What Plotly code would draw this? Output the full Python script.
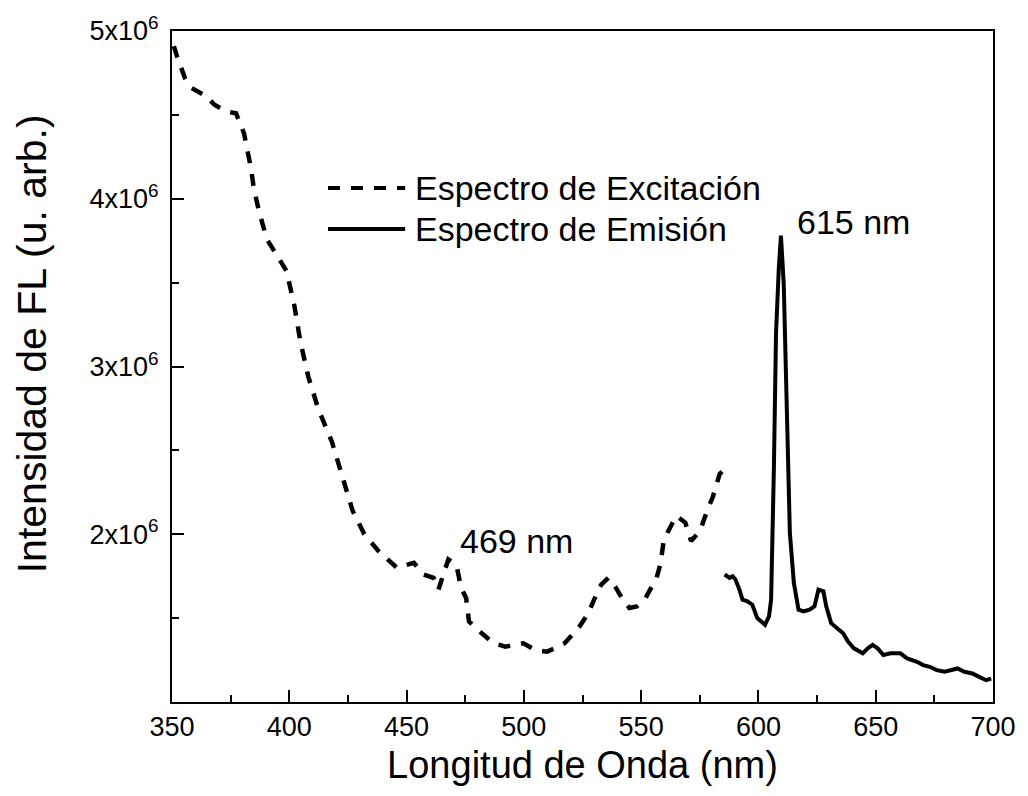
import plotly.graph_objects as go

# Excitation spectrum (dashed)
exc_x = [350.8, 352.1, 355.5, 358.4, 364.7, 368.1, 373.1, 377.3, 380.7, 383.7, 384.9, 387.0, 390.4,
         398.8, 402.2, 404.7, 408.1, 412.3, 418.2, 422.4, 427.0, 432.0, 438.0, 445.9, 453.1, 457.3,
         461.5, 463.6, 467.8, 471.2, 473.3, 475.4, 476.6, 480.4, 487.1, 492.2, 499.8, 504.8, 509.9,
         513.2, 517.4, 523.7, 527.1, 530.9, 533.0, 536.0, 539.3, 541.8, 545.0, 548.1, 551.9, 556.6,
         558.2, 559.5, 561.6, 565.0, 568.8, 571.3, 575.1, 578.4, 580.5, 583.5, 585.0]
exc_y = [4.91, 4.85, 4.72, 4.66, 4.61, 4.56, 4.52, 4.51, 4.39, 4.18, 4.06, 3.93, 3.76,
         3.57, 3.36, 3.15, 2.94, 2.75, 2.55, 2.35, 2.14, 2.00, 1.90, 1.80, 1.83, 1.76,
         1.74, 1.67, 1.85, 1.82, 1.68, 1.62, 1.48, 1.43, 1.35, 1.33, 1.35, 1.31, 1.30,
         1.32, 1.35, 1.45, 1.52, 1.64, 1.70, 1.74, 1.68, 1.62, 1.56, 1.57, 1.62, 1.74,
         1.82, 1.95, 2.02, 2.11, 2.07, 1.96, 2.02, 2.15, 2.22, 2.36, 2.38]

# Emission spectrum (solid)
em_x = [585.6, 587.7, 589.0, 590.2, 591.9, 593.2, 595.3, 597.4, 599.5, 601.6, 602.8, 604.5, 605.4,
        606.6, 607.5, 608.7, 609.6, 610.8, 612.1, 613.4, 615.1, 617.1, 619.2, 621.8, 623.9, 625.6,
        627.7, 628.9, 631.0, 634.0, 636.1, 638.2, 640.7, 644.5, 646.6, 648.7, 650.8, 653.3, 656.3,
        660.5, 663.4, 667.6, 670.2, 673.1, 676.0, 679.4, 682.4, 684.9, 687.8, 691.2, 694.1, 697.1, 699.2]
em_y = [1.76, 1.74, 1.75, 1.73, 1.67, 1.61, 1.60, 1.58, 1.50, 1.47, 1.46, 1.51, 1.61,
        2.40, 3.20, 3.59, 3.78, 3.49, 2.80, 2.01, 1.71, 1.55, 1.54, 1.55, 1.57, 1.67,
        1.66, 1.57, 1.47, 1.43, 1.41, 1.36, 1.32, 1.29, 1.32, 1.34, 1.32, 1.28, 1.29,
        1.29, 1.26, 1.24, 1.22, 1.21, 1.19, 1.18, 1.19, 1.20, 1.18, 1.17, 1.15, 1.13, 1.14]

SCALE = 1e6
y_tickvals = [2, 3, 4, 5]
y_ticktext = ["2x10<sup>6</sup>", "3x10<sup>6</sup>", "4x10<sup>6</sup>", "5x10<sup>6</sup>"]
x_tickvals = [350, 400, 450, 500, 550, 600, 650, 700]

FONT = "Arial, Liberation Sans, sans-serif"
DASH = "12px,11px"

fig = go.Figure()
fig.add_trace(go.Scatter(x=exc_x, y=[v * SCALE for v in exc_y], mode="lines",
                         line=dict(color="black", width=4.5, dash=DASH),
                         name="Espectro de Excitación", showlegend=False))
fig.add_trace(go.Scatter(x=em_x, y=[v * SCALE for v in em_y], mode="lines",
                         line=dict(color="black", width=4),
                         name="Espectro de Emisión", showlegend=False))

# Manual legend (paper coordinates)
leg_x0, leg_x1, leg_tx = 0.19, 0.284, 0.293
leg_rows = [(0.766, DASH, "Espectro de Excitación"), (0.705, "solid", "Espectro de Emisión")]
for yy, dash, label in leg_rows:
    fig.add_shape(type="line", xref="paper", yref="paper", x0=leg_x0, x1=leg_x1, y0=yy, y1=yy,
                  line=dict(color="black", width=4, dash=dash))
    fig.add_annotation(xref="paper", yref="paper", x=leg_tx, y=yy, text=label,
                       showarrow=False, xanchor="left", yanchor="middle",
                       font=dict(family=FONT, size=34, color="black"))

fig.add_annotation(x=472.0, y=1.96 * SCALE, text="469 nm", showarrow=False, xanchor="left",
                   yanchor="middle", font=dict(family=FONT, size=34, color="black"))
fig.add_annotation(x=615.5, y=3.86 * SCALE, text="615 nm", showarrow=False, xanchor="left",
                   yanchor="middle", font=dict(family=FONT, size=34, color="black"))

# Y-axis title placed as rotated annotation
fig.add_annotation(xref="paper", yref="paper", x=-0.171, y=0.534, text="Intensidad de FL (u. arb.)",
                   textangle=-90, showarrow=False, xanchor="center", yanchor="middle",
                   font=dict(family=FONT, size=41, color="black"))

fig.update_layout(
    width=1028, height=796,
    margin=dict(l=172, r=24, t=30, b=94),
    paper_bgcolor="white", plot_bgcolor="white",
    font=dict(family=FONT, color="black"),
)
fig.update_xaxes(range=[350, 700], tickvals=x_tickvals, ticks="inside", ticklen=12, tickwidth=2,
                 tickcolor="black", showline=True, linecolor="black", linewidth=2, mirror=True,
                 showgrid=False, zeroline=False, ticklabelstandoff=0,
                 minor=dict(dtick=25, tick0=350, ticks="inside", ticklen=7, tickwidth=2, tickcolor="black"),
                 tickfont=dict(family=FONT, size=27),
                 title=dict(text="Longitud de Onda (nm)", font=dict(family=FONT, size=38), standoff=10))
fig.update_yaxes(range=[1 * SCALE, 5 * SCALE], tickvals=[v * SCALE for v in y_tickvals], ticktext=y_ticktext,
                 ticks="inside", ticklen=12, tickwidth=2, tickcolor="black",
                 showline=True, linecolor="black", linewidth=2, mirror=True,
                 showgrid=False, zeroline=False, ticklabelstandoff=6,
                 minor=dict(dtick=0.5 * SCALE, tick0=0, ticks="inside", ticklen=7, tickwidth=2, tickcolor="black"),
                 tickfont=dict(family=FONT, size=27))

fig.write_html("out.html")
